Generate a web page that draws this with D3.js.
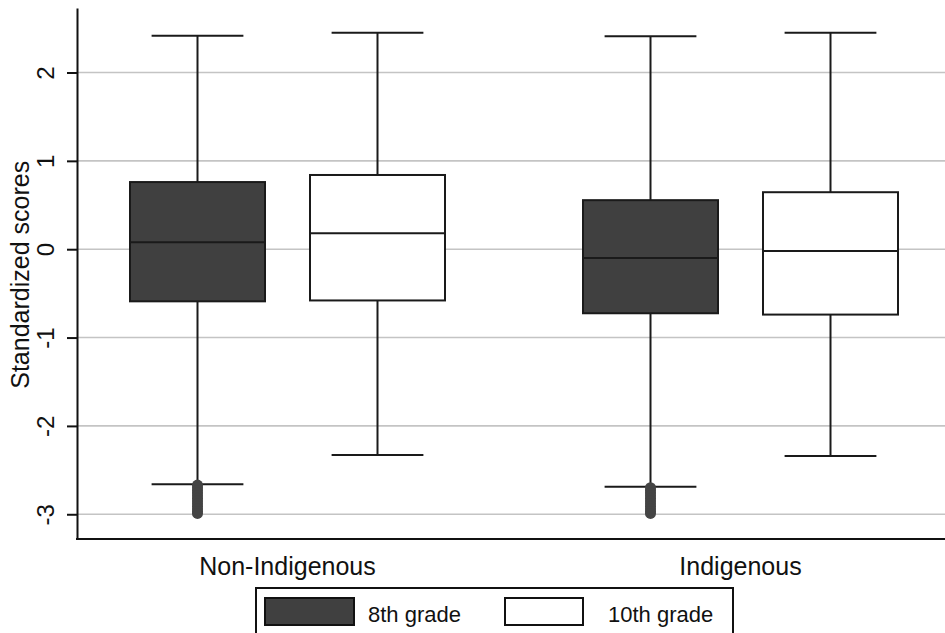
<!DOCTYPE html>
<html>
<head>
<meta charset="utf-8">
<script src="https://cdn.jsdelivr.net/npm/d3@7"></script>
<style>
  body { margin: 0; background: #fff; }
  svg { display: block; font-family: "Liberation Sans", Arial, sans-serif; }
</style>
</head>
<body>
<div id="chart"></div>
<script>
// groups and grades
const groups = ["Non-Indigenous", "Indigenous"];
const grades = ["8th grade", "10th grade"];
const yTicks = [-3, -2, -1, 0, 1, 2];
const yTickLabels = ["-3", "-2", "-1", "0", "1", "2"];

// box stats per group, in grade order: [lower whisker, q1, median, q3, upper whisker]
const nonIndigenous = [
  [-2.66, -0.59, 0.08, 0.76, 2.415],
  [-2.33, -0.58, 0.18, 0.84, 2.45]
];
const indigenous = [
  [-2.69, -0.725, -0.10, 0.555, 2.41],
  [-2.34, -0.74, -0.02, 0.645, 2.45]
];
// outliers below the 8th grade whiskers (dense run of points)
const outliersNonInd8 = [-2.67, -2.70, -2.73, -2.76, -2.79, -2.82, -2.85, -2.88, -2.91, -2.94, -2.97, -2.99];
const outliersInd8 = [-2.70, -2.73, -2.76, -2.79, -2.82, -2.85, -2.88, -2.91, -2.94, -2.97, -2.99];

const colors = { "8th grade": "#404040", "10th grade": "#ffffff" };

const width = 945, height = 633;
const margin = { left: 77, top: 8, bottom: 539 };

const svg = d3.select("#chart").append("svg")
  .attr("width", width)
  .attr("height", height);

const y = d3.scaleLinear().domain([-3.28, 2.73]).range([margin.bottom, margin.top]);
const x = d3.scaleBand().domain(groups).range([61, 967]);
const xs = d3.scaleBand().domain(grades).range([46.5, 406.5]);

// grid
svg.append("g").selectAll("line")
  .data(yTicks).enter().append("line")
  .attr("x1", margin.left).attr("x2", width)
  .attr("y1", d => y(d)).attr("y2", d => y(d))
  .attr("stroke", "#c4c4c4").attr("stroke-width", 1.6);

// y axis
const yAxis = svg.append("g")
  .attr("transform", `translate(${margin.left},0)`)
  .call(d3.axisLeft(y).tickValues(yTicks).tickSize(10).tickSizeOuter(0)
    .tickFormat((d, i) => yTickLabels[i]));
yAxis.select(".domain").attr("stroke", "#111").attr("stroke-width", 2);
yAxis.selectAll(".tick line").attr("stroke", "#111").attr("stroke-width", 2);
yAxis.selectAll(".tick text")
  .attr("font-size", 24).attr("fill", "#111")
  .attr("text-anchor", "middle")
  .attr("x", null).attr("y", null)
  .attr("transform", "translate(-31,0) rotate(-90)")
  .attr("dy", "0.35em");

// y title
svg.append("text")
  .attr("transform", `translate(20,${y(-0.29)}) rotate(-90)`)
  .attr("text-anchor", "middle")
  .attr("dy", "0.35em")
  .attr("font-size", 25).attr("fill", "#111")
  .text("Standardized scores");

// x axis line
svg.append("line")
  .attr("x1", margin.left - 1).attr("x2", width)
  .attr("y1", margin.bottom).attr("y2", margin.bottom)
  .attr("stroke", "#111").attr("stroke-width", 2);

svg.append("g").selectAll("text")
  .data(groups).enter().append("text")
  .attr("x", d => x(d) + x.bandwidth() / 2)
  .attr("y", 575)
  .attr("text-anchor", "middle")
  .attr("font-size", 25).attr("fill", "#111")
  .text(d => d);

// boxes
const stats = { "Non-Indigenous": nonIndigenous, "Indigenous": indigenous };
const outliers = { "Non-Indigenous": outliersNonInd8, "Indigenous": outliersInd8 };
const boxW = xs.bandwidth() * 0.75;
const capW = xs.bandwidth() * 0.51;

groups.forEach(gname => {
  const g = svg.append("g").attr("transform", `translate(${x(gname)},0)`);
  grades.forEach((gr, i) => {
    const [lo, q1, med, q3, hi] = stats[gname][i];
    const cx = xs(gr) + xs.bandwidth() / 2;
    const stroke = "#1a1a1a";
    // whiskers
    g.append("line").attr("x1", cx).attr("x2", cx).attr("y1", y(hi)).attr("y2", y(q3))
      .attr("stroke", stroke).attr("stroke-width", 2);
    g.append("line").attr("x1", cx).attr("x2", cx).attr("y1", y(q1)).attr("y2", y(lo))
      .attr("stroke", stroke).attr("stroke-width", 2);
    g.append("line").attr("x1", cx - capW / 2).attr("x2", cx + capW / 2).attr("y1", y(hi)).attr("y2", y(hi))
      .attr("stroke", stroke).attr("stroke-width", 2);
    g.append("line").attr("x1", cx - capW / 2).attr("x2", cx + capW / 2).attr("y1", y(lo)).attr("y2", y(lo))
      .attr("stroke", stroke).attr("stroke-width", 2);
    // box
    g.append("rect")
      .attr("x", cx - boxW / 2).attr("width", boxW)
      .attr("y", y(q3)).attr("height", y(q1) - y(q3))
      .attr("fill", colors[gr]).attr("stroke", stroke).attr("stroke-width", 2);
    g.append("line").attr("x1", cx - boxW / 2).attr("x2", cx + boxW / 2).attr("y1", y(med)).attr("y2", y(med))
      .attr("stroke", stroke).attr("stroke-width", 2);
    if (i === 0) {
      g.append("g").selectAll("circle")
        .data(outliers[gname]).enter().append("circle")
        .attr("cx", cx).attr("cy", d => y(d)).attr("r", 5.5)
        .attr("fill", "#444");
    }
  });
});

// legend
const lg = svg.append("g");
lg.append("rect").attr("x", 256).attr("y", 588).attr("width", 477).attr("height", 60)
  .attr("fill", "#fff").attr("stroke", "#111").attr("stroke-width", 2);
const legendItems = [
  { grade: grades[0], sx: 265, sw: 89, tx: 368 },
  { grade: grades[1], sx: 505, sw: 78, tx: 608 }
];
legendItems.forEach(it => {
  lg.append("rect").attr("x", it.sx).attr("y", 598).attr("width", it.sw).attr("height", 27)
    .attr("fill", colors[it.grade]).attr("stroke", "#111").attr("stroke-width", 2);
  lg.append("text").attr("x", it.tx).attr("y", 622)
    .attr("font-size", 22).attr("fill", "#111")
    .text(it.grade);
});
</script>
</body>
</html>
